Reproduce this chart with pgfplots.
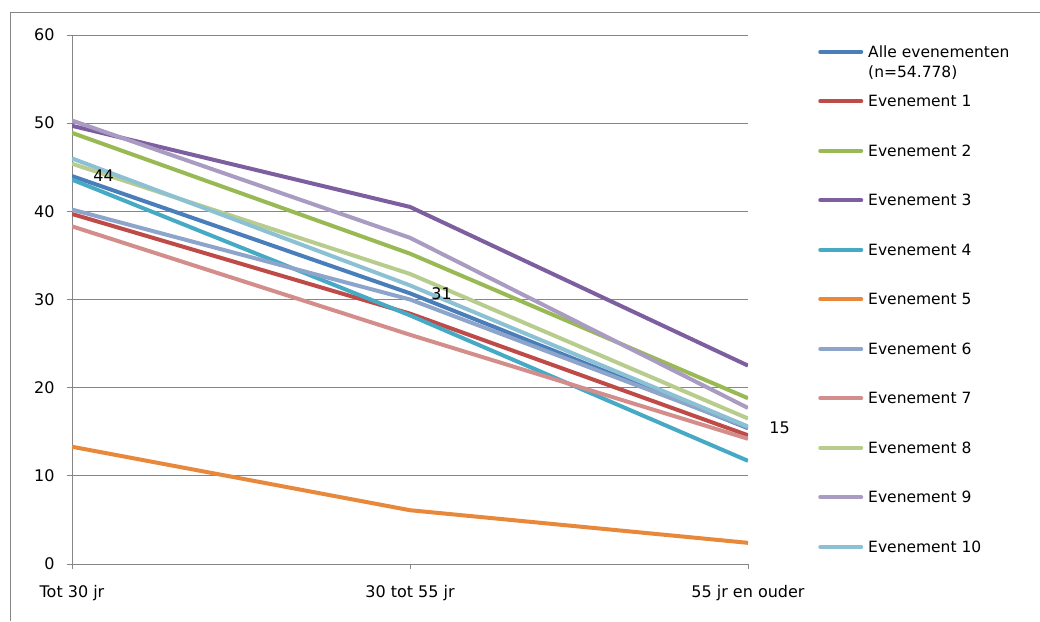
\documentclass[border=0pt]{standalone}
\usepackage{pgfplots}
\pgfplotsset{compat=1.18}
\usepackage{fontspec}
\setmainfont{DejaVu Sans}

\definecolor{cAll}{HTML}{4A7EBB}
\definecolor{cE1}{HTML}{BE4B48}
\definecolor{cE2}{HTML}{98B954}
\definecolor{cE3}{HTML}{7D5FA0}
\definecolor{cE4}{HTML}{46AAC5}
\definecolor{cE5}{HTML}{E8883A}
\definecolor{cE6}{HTML}{8EA5CB}
\definecolor{cE7}{HTML}{D38E8C}
\definecolor{cE8}{HTML}{B7CC8D}
\definecolor{cE9}{HTML}{A99BC2}
\definecolor{cE10}{HTML}{8CC1D4}
\definecolor{gridgray}{HTML}{868686}

\begin{document}
\begin{tikzpicture}
\path[use as bounding box] (0,0) rectangle (1040pt,621pt);
\draw[gridgray, line width=1pt] (10.5pt,0pt) -- (10.5pt,608.5pt) -- (1040pt,608.5pt);
\begin{axis}[
  at={(72pt,57pt)}, anchor=south west, scale only axis,
  width=676pt, height=529pt,
  xmin=0, xmax=2, ymin=0, ymax=60,
  axis x line=bottom, axis y line=left,
  axis line style={-, draw=gridgray, line width=1pt},
  xtick={0,1,2},
  xticklabels={Tot 30 jr, 30 tot 55 jr, 55 jr en ouder},
  ytick={0,10,20,30,40,50,60},
  ymajorgrids, grid style={gridgray, line width=1pt},
  tick style={gridgray, line width=1pt},
  tick align=outside, major tick length=5pt,
  tick label style={font=\fontsize{16}{19}\selectfont, text=black},
  xticklabel style={yshift=-13pt},
  yticklabel style={xshift=-9pt},
  /pgf/number format/assume math mode=true,
  legend cell align=left,
  legend style={at={(axis description cs:1.1036,0.979)}, anchor=north west,
    draw=none, fill=none, inner sep=0pt, row sep=35.5pt, column sep=5pt,
    nodes={inner sep=0pt, text height=11pt, text depth=3pt,
      font=\fontsize{15.5}{18}\selectfont}},
  legend image code/.code={\draw[#1, line width=4pt, line cap=round] (0pt,1.5pt) -- (41pt,1.5pt);},
  every axis plot/.append style={line width=4pt, line join=round, mark=none},
]
\addplot[cAll, nodes near coords={\pgfmathprintnumber[fixed,precision=0]{\pgfplotspointmeta}},
  every node near coord/.style={anchor=west, xshift=16pt, text=black, font=\fontsize{16}{19}\selectfont}]
  coordinates {(0,44.0) (1,30.7) (2,15.4)};
\addlegendentry{\vtop{\baselineskip=20pt \hbox{Alle evenementen}\hbox{(n=54.778)}}}
\addplot[cE1] coordinates {(0,39.7) (1,28.4) (2,14.6)};
\addlegendentry{Evenement 1}
\addplot[cE2] coordinates {(0,48.9) (1,35.2) (2,18.8)};
\addlegendentry{Evenement 2}
\addplot[cE3] coordinates {(0,49.7) (1,40.5) (2,22.5)};
\addlegendentry{Evenement 3}
\addplot[cE4] coordinates {(0,43.6) (1,28.2) (2,11.7)};
\addlegendentry{Evenement 4}
\addplot[cE5] coordinates {(0,13.3) (1,6.1) (2,2.4)};
\addlegendentry{Evenement 5}
\addplot[cE6] coordinates {(0,40.2) (1,30.0) (2,15.5)};
\addlegendentry{Evenement 6}
\addplot[cE7] coordinates {(0,38.3) (1,26.0) (2,14.2)};
\addlegendentry{Evenement 7}
\addplot[cE8] coordinates {(0,45.4) (1,32.9) (2,16.5)};
\addlegendentry{Evenement 8}
\addplot[cE9] coordinates {(0,50.3) (1,37.0) (2,17.7)};
\addlegendentry{Evenement 9}
\addplot[cE10] coordinates {(0,46.0) (1,31.6) (2,15.6)};
\addlegendentry{Evenement 10}
\end{axis}
\end{tikzpicture}
\end{document}
